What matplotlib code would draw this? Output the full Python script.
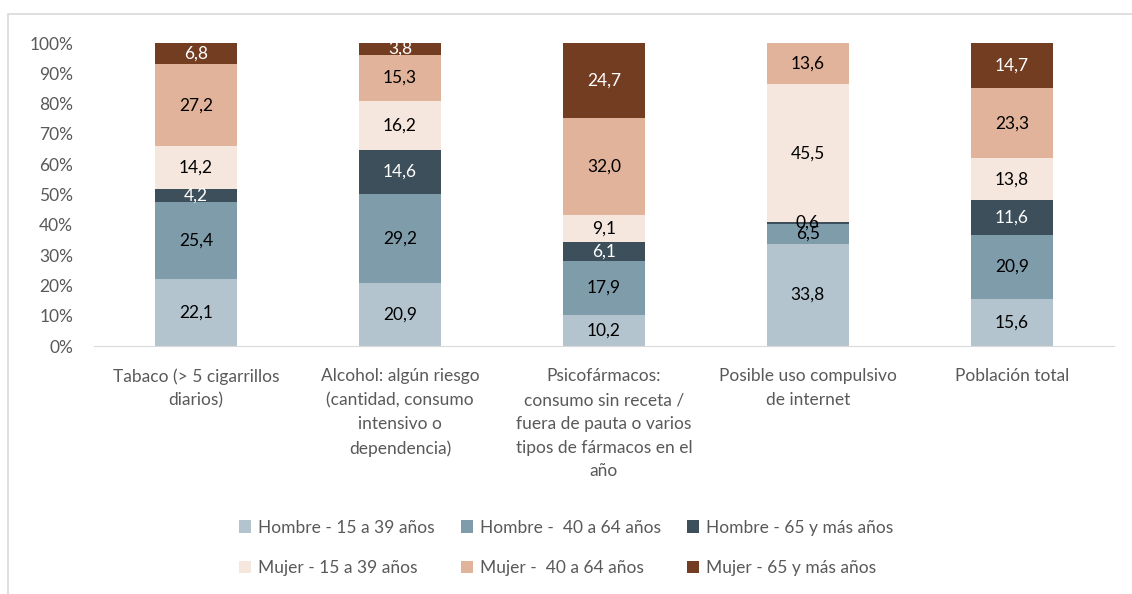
import numpy as np
import matplotlib.pyplot as plt
from matplotlib.patches import Rectangle

plt.rcParams['font.family'] = ['Lato', 'DejaVu Sans']

categories = [
    "Tabaco (> 5 cigarrillos\ndiarios)",
    "Alcohol: algún riesgo\n(cantidad, consumo\nintensivo o\ndependencia)",
    "Psicofármacos:\nconsumo sin receta /\nfuera de pauta o varios\ntipos de fármacos en el\naño",
    "Posible uso compulsivo\nde internet",
    "Población total",
]
series_names = [
    "Hombre - 15 a 39 años",
    "Hombre -  40 a 64 años",
    "Hombre - 65 y más años",
    "Mujer - 15 a 39 años",
    "Mujer -  40 a 64 años",
    "Mujer - 65 y más años",
]
hombre_15_39 = [22.1, 20.9, 10.2, 33.8, 15.6]
hombre_40_64 = [25.4, 29.2, 17.9, 6.5, 20.9]
hombre_65 = [4.2, 14.6, 6.1, 0.6, 11.6]
mujer_15_39 = [14.2, 16.2, 9.1, 45.5, 13.8]
mujer_40_64 = [27.2, 15.3, 32.0, 13.6, 23.3]
mujer_65 = [6.8, 3.8, 24.7, 0.0, 14.7]

series = [hombre_15_39, hombre_40_64, hombre_65, mujer_15_39, mujer_40_64, mujer_65]
colors = ["#b4c4ce", "#7f9cab", "#3c4f5a", "#f5e6de", "#e2b39b", "#733d22"]
label_colors = ["black", "black", "white", "black", "black", "white"]

fig = plt.figure(figsize=(11.32, 5.94), dpi=100)
ax = fig.add_axes([0.083, 0.4175, 0.901, 0.51])

x = np.arange(len(categories))
bottom = np.zeros(len(categories))
handles = []
for vals, col, lc, name in zip(series, colors, label_colors, series_names):
    vals = np.array(vals)
    bars = ax.bar(x, vals, 0.4, bottom=bottom, color=col, label=name)
    handles.append(bars)
    for xi, v, b in zip(x, vals, bottom):
        if v > 0:
            # tiny segment label sits on the light bar above, so keep it black
            c = lc if v >= 1 else "black"
            ax.text(xi, b + v / 2, f"{v:.1f}".replace(".", ","), ha="center",
                    va="center", fontsize=12.5, color=c)
    bottom += vals

ax.set_xlim(-0.5, len(categories) - 0.5)
ax.set_ylim(0, 100)
ax.set_yticks(np.arange(0, 101, 10))
ax.set_yticklabels([f"{t}%" for t in range(0, 101, 10)])
ax.set_xticks(x)
ax.set_xticklabels(categories, linespacing=1.6, va="top")
ax.tick_params(axis="both", length=0, labelsize=12.5, labelcolor="#595959")
ax.tick_params(axis="x", pad=16)
ax.tick_params(axis="y", pad=15)
for s in ["top", "right", "left"]:
    ax.spines[s].set_visible(False)
ax.spines["bottom"].set_color("#d9d9d9")

# legend filled row-wise (matplotlib fills columns first)
order = [0, 3, 1, 4, 2, 5]
leg = fig.legend([handles[i] for i in order], [series_names[i] for i in order],
                 loc="center", bbox_to_anchor=(0.5, 0.078), ncol=3, frameon=False,
                 fontsize=12.5, handlelength=0.7, handleheight=0.7,
                 handletextpad=0.4, columnspacing=1.5, labelspacing=1.4)
for t in leg.get_texts():
    t.set_color("#595959")

fig.patches.append(Rectangle((0.007, -0.1), 1.2, 1.077, transform=fig.transFigure,
                             fill=False, edgecolor="#d9d9d9", linewidth=1.2))

fig.savefig("out.png", dpi=100)
